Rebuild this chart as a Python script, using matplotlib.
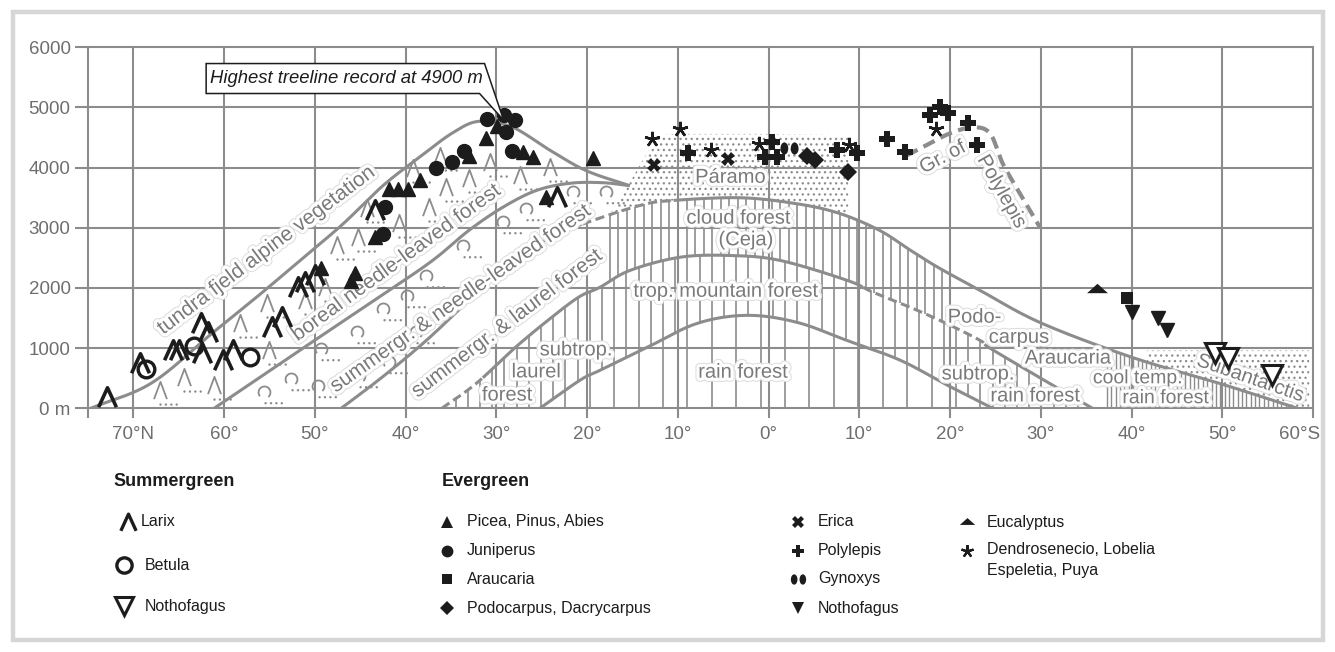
import numpy as np
import matplotlib
matplotlib.use('Agg')
import matplotlib.pyplot as plt
import matplotlib.patheffects as pe
from matplotlib.path import Path
from matplotlib.patches import Polygon, Rectangle
from matplotlib.transforms import ScaledTranslation

plt.rcParams['font.family'] = ['Liberation Sans', 'DejaVu Sans']
plt.rcParams['hatch.color'] = '#8c8c8c'
plt.rcParams['hatch.linewidth'] = 0.9

GRAY = '#8c8c8c'
TXT = '#7a7a7a'
INK = '#1c1c1c'

# latitude: negative = north, positive = south ; altitude in m
treeline_lat = [-74.7, -68.0, -61.3, -56.0, -51.7, -47.0, -42.5, -38.5, -34.8, -31.9, -28.2, -24.1, -20.1, -15.3]
treeline_alt = [0, 420, 1250, 1900, 2450, 3050, 3700, 4170, 4580, 4770, 4670, 4290, 3950, 3700]
boreal_lat = [-61.1, -51.7, -42.3, -37.0, -33.0, -29.3, -25.6, -21.9, -18.3, -15.3]
boreal_alt = [0, 960, 1910, 2460, 2960, 3340, 3620, 3740, 3750, 3700]
cloud_lat = [-47.1, -42.6, -37.7, -32.7, -27.8, -23.1, -19.4, -14.2, -10.9, -3.2, 3.1, 7.8, 12.2, 15.6, 18.7, 23.3, 30.0, 40.0, 50.0, 58.3]
cloud_alt = [0, 515, 1130, 1840, 2510, 2900, 3120, 3370, 3450, 3500, 3400, 3240, 2960, 2630, 2340, 1960, 1420, 850, 400, 0]
mountain_lat = [-36.0, -32.2, -28.0, -24.0, -20.9, -18.6, -15.3, -9.8, -4.3, 1.2, 8.6, 11.5, 15.6, 19.6, 23.3, 24.4, 30.0, 35.7]
mountain_alt = [0, 415, 1000, 1500, 1850, 2010, 2290, 2510, 2540, 2460, 2130, 1930, 1680, 1410, 1130, 1000, 500, 0]
rain_lat = [-25.2, -20.8, -18.6, -13.4, -7.9, -2.4, 3.1, 8.6, 14.5, 19.5, 24.7]
rain_alt = [0, 465, 630, 1010, 1410, 1545, 1430, 1130, 800, 400, 0]
polylepis_lat = [15.2, 17.5, 20.0, 22.5, 24.4, 25.8, 27.7, 29.9]
polylepis_alt = [4200, 4380, 4570, 4670, 4570, 4070, 3570, 3010]
paramo_lat = [-17.5, -15.5, -12.5, -11.0, 0.0, 8.8]
paramo_alt = [3220, 3700, 4480, 4560, 4560, 4540]
subant_lat = [41.7, 59.6]
subant_alt = [960, 960]

# vegetation icons (grey)
conifer_lat = [-67.1, -64.4, -61.1, -58.3, -55.3, -55.0, -51.1, -48.9, -47.6, -45.3, -44.3, -40.7, -39.2, -37.4, -36.2, -35.5, -33.0, -30.7, -27.4, -24.1]
conifer_alt = [300, 520, 390, 1420, 1750, 970, 1800, 2010, 2710, 2840, 3330, 3080, 4000, 3345, 4200, 3680, 3830, 4100, 3875, 4010]
decid_lat = [-55.6, -52.6, -49.7, -49.3, -45.1, -45.4, -42.5, -41.8, -39.9, -38.8, -37.7, -33.7, -29.3, -26.7, -21.6, -17.9]
decid_alt = [255, 470, 355, 970, 520, 1250, 1635, 750, 1850, 1250, 2180, 2680, 3080, 3290, 3580, 3580]

# treeline records
larix_lat = [-72.9, -69.3, -65.6, -65.0, -62.6, -61.8, -62.4, -60.1, -59.0, -54.7, -53.6, -51.9, -51.1, -50.0, -43.4, -23.3]
larix_alt = [190, 750, 970, 970, 1415, 1265, 915, 800, 970, 1355, 1520, 2020, 2100, 2210, 3290, 3510]
betula_lat = [-68.6, -63.3, -57.1]
betula_alt = [660, 1030, 860]
notho_open_lat = [49.2, 50.6, 55.5]
notho_open_alt = [920, 835, 555]
picea_lat = [-49.3, -45.6, -46.0, -43.4, -41.8, -40.8, -39.7, -38.4, -33.0, -31.1, -29.9, -27.1, -26.0, -24.5, -19.4]
picea_alt = [2330, 2250, 2120, 2840, 3640, 3640, 3640, 3790, 4200, 4500, 4700, 4260, 4170, 3510, 4160]
juniperus_lat = [-42.3, -42.5, -36.6, -34.9, -33.6, -31.0, -29.2, -27.9, -28.9, -28.3]
juniperus_alt = [3350, 2900, 4000, 4090, 4270, 4800, 4870, 4790, 4590, 4280]
erica_lat = [-12.6, -4.5]
erica_alt = [4040, 4140]
aster_lat = [-12.8, -9.8, -6.3, -1.0, 8.9, 18.5]
aster_alt = [4480, 4650, 4290, 4400, 4370, 4650]
polyl_lat = [-8.9, 0.4, -0.4, 0.9, 7.5, 9.8, 13.1, 15.0, 17.8, 18.9, 19.8, 22.0, 23.0]
polyl_alt = [4240, 4430, 4180, 4180, 4290, 4240, 4480, 4260, 4870, 5000, 4900, 4740, 4370]
gynoxys_lat = [2.2]
gynoxys_alt = [4320]
podo_lat = [4.2, 5.1, 8.7]
podo_alt = [4200, 4130, 3930]
euca_lat = [36.2]
euca_alt = [2000]
arau_lat = [39.5]
arau_alt = [1830]
notho_lat = [40.1, 42.9, 43.9]
notho_alt = [1600, 1500, 1300]

xticks = [-75, -70, -60, -50, -40, -30, -20, -10, 0, 10, 20, 30, 40, 50, 60]
xlabels = ['', '70°N', '60°', '50°', '40°', '30°', '20°', '10°', '0°',
           '10°', '20°', '30°', '40°', '50°', '60°S']
yticks = [0, 1000, 2000, 3000, 4000, 5000, 6000]
ylabels = ['0 m', '1000', '2000', '3000', '4000', '5000', '6000']


def smooth(xs, ys, n=40):
    pts = np.column_stack([xs, ys]).astype(float)
    P = np.vstack([2 * pts[0] - pts[1], pts, 2 * pts[-1] - pts[-2]])
    out = []
    t = np.linspace(0, 1, n, endpoint=False)[:, None]
    for i in range(1, len(P) - 2):
        p0, p1, p2, p3 = P[i - 1], P[i], P[i + 1], P[i + 2]
        out.append(0.5 * (2 * p1 + (-p0 + p2) * t + (2 * p0 - 5 * p1 + 4 * p2 - p3) * t ** 2
                          + (-p0 + 3 * p1 - 3 * p2 + p3) * t ** 3))
    out.append(pts[-1:])
    return np.vstack(out)


def at(c, x):
    return np.interp(x, c[:, 0], c[:, 1], left=0, right=0)


def draw(c, lo=None, hi=None, dashed=False, lw=2.2):
    m = np.ones(len(c), bool)
    if lo is not None:
        m &= c[:, 0] >= lo
    if hi is not None:
        m &= c[:, 0] <= hi
    kw = dict(dashes=(3, 1.5)) if dashed else {}
    ax.plot(c[m, 0], c[m, 1], color=GRAY, lw=lw, zorder=2, solid_capstyle='butt', **kw)


c1 = smooth(treeline_lat, treeline_alt)
c2 = smooth(boreal_lat, boreal_alt)
c3 = smooth(cloud_lat, cloud_alt)
c4 = smooth(mountain_lat, mountain_alt)
c5 = smooth(rain_lat, rain_alt)
c6 = smooth(polylepis_lat, polylepis_alt)

W, H = 1335, 652
fig = plt.figure(figsize=(W / 100, H / 100), dpi=100)
ax = fig.add_axes([88 / W, 1 - 408.3 / H, (1313 - 88) / W, 361 / H])
ax.set_xlim(-75, 60)
ax.set_ylim(0, 6000)
for s in ax.spines.values():
    s.set_visible(False)
ax.set_xticks(xticks, xlabels)
ax.set_yticks(yticks, ylabels)
ax.grid(True, color=GRAY, lw=1.5, zorder=0)
ax.set_axisbelow(True)
for gl in ax.get_xgridlines() + ax.get_ygridlines():
    gl.set_clip_on(False)
ax.tick_params(axis='x', length=7.5, width=1.5, color=GRAY, labelsize=13.5, labelcolor='#6e6e6e', pad=5)
ax.tick_params(axis='y', length=9.5, width=1.5, color=GRAY, labelsize=13.5, labelcolor='#6e6e6e', pad=3)
lab = ax.get_xticklabels()[-1]
lab.set_transform(lab.get_transform() + ScaledTranslation(-0.13, 0, fig.dpi_scale_trans))

# hatching: subtropical / mountain / rain forest
step = 1.345
ks = np.arange(-12, 42)
xs = -19.7 + step * ks
tops = at(c4, xs)
bots = np.where(ks % 2 == 0, 0, at(c5, xs))
ok = tops > 0
ax.vlines(xs[ok], bots[ok], tops[ok], colors=GRAY, lw=1.2, zorder=1)
# cloud forest
xs = np.arange(-17.5, 19.2, 0.94)
ax.vlines(xs, at(c4, xs), at(c3, xs), colors=GRAY, lw=1.2, zorder=1)
# cool temperate
xs = np.arange(37.3, 58.3, 0.48)
ax.vlines(xs, 0, at(c3, xs), colors=GRAY, lw=1.0, zorder=1)

# stippled areas
xs = np.linspace(paramo_lat[0], paramo_lat[-1], 300)
lo = at(c3, xs)
hi = np.interp(xs, paramo_lat, paramo_alt)
ax.fill_between(xs, lo, hi, where=hi > lo, facecolor='none', edgecolor=GRAY, hatch='...', lw=0, zorder=1)
xs = np.linspace(subant_lat[0], subant_lat[-1], 300)
lo = np.interp(xs, c3[:, 0], c3[:, 1], right=0)
hi = np.interp(xs, subant_lat, subant_alt)
ax.fill_between(xs, lo, hi, where=hi > lo, facecolor='none', edgecolor=GRAY, hatch='...', lw=0, zorder=1)

# boundaries
draw(c1)
draw(c2)
draw(c3, hi=-20.5)
draw(c3, lo=-20.5, hi=-10.5, dashed=True)
draw(c3, lo=-10.5)
draw(c4, hi=-31.5, dashed=True)
draw(c4, lo=-31.5, hi=10.4)
draw(c4, lo=10.4, hi=23.8, dashed=True)
draw(c4, lo=23.8)
draw(c5)
ax.plot(c6[:, 0], c6[:, 1], color=GRAY, lw=3, dashes=(3, 1.6), zorder=2)

# grey vegetation icons
M, L = Path.MOVETO, Path.LINETO
con_line = Path([(18, 18), (-6, -8), (0, 8), (6, -8)], [M, M, L, L])
dots = [Path.circle((dx, -13), 1.1) for dx in (0, 5, 10, 15)]
pad = Path([(18, 18), (-18, -18)], [M, M])
con_dots = Path.make_compound_path(pad, *dots)
arc = Path.arc(-50, 220)
arc = Path(arc.vertices * 5.5 + [0, 1], arc.codes)
dec_line = Path.make_compound_path(pad, arc)
dec_dots = Path.make_compound_path(pad, *[Path.circle((dx, -9), 1.1) for dx in (1, 6, 11, 16)])
ax.plot(conifer_lat, conifer_alt, ls='none', marker=con_line, ms=28, mfc='none', mec=GRAY, mew=1.3, zorder=2.5)
ax.plot(conifer_lat, conifer_alt, ls='none', marker=con_dots, ms=28, mfc=GRAY, mew=0, zorder=2.5)
ax.plot(decid_lat, decid_alt, ls='none', marker=dec_line, ms=28, mfc='none', mec=GRAY, mew=1.3, zorder=2.5)
ax.plot(decid_lat, decid_alt, ls='none', marker=dec_dots, ms=28, mfc=GRAY, mew=0, zorder=2.5)

# labels
halo = [pe.Stroke(linewidth=6, foreground='#dedede'), pe.Stroke(linewidth=4.5, foreground='white'), pe.Normal()]


def label(x, y, s, rot=0, size=14.5):
    ax.text(x, y, s, rotation=rot, rotation_mode='anchor', ha='center', va='center',
            color=TXT, fontsize=size, path_effects=halo, zorder=3)


label(-55.3, 2630, 'tundra fjeld alpine vegetation', 37, 15)
label(-41.0, 2420, 'boreal needle-leaved forest', 36, 15)
label(-33.9, 1825, 'summergr. & needle-leaved forest', 35, 15)
label(-28.8, 1410, 'summergr. & laurel forest', 37, 15)
label(-21.2, 970, 'subtrop.')
label(-25.6, 605, 'laurel')
label(-28.8, 220, 'forest')
label(-4.2, 3840, 'Páramo')
label(-3.3, 3160, 'cloud forest')
label(-2.5, 2800, '(Ceja)')
label(-4.7, 1945, 'trop. mountain forest')
label(-2.8, 600, 'rain forest')
label(19.2, 4170, 'Gr. of', 28)
label(25.7, 3600, 'Polylepis', -60.5)
label(22.7, 1515, 'Podo-')
label(27.6, 1180, 'carpus')
label(33.0, 835, 'Araucaria')
label(23.1, 570, 'subtrop.')
label(29.4, 205, 'rain forest')
label(40.7, 490, 'cool temp.', size=14)
label(43.8, 160, 'rain forest', size=14)
label(53.1, 500, 'Subantarctis', -19)

# record markers
larix_mk = Path([(-0.55, -0.6), (0, 0.6), (0.55, -0.6)], [M, L, L])
circ = Path.unit_circle()
lens_l = Path(circ.vertices * [0.32, 0.5] + [-0.42, 0], circ.codes)
lens_r = Path(circ.vertices * [0.32, 0.5] + [0.42, 0], circ.codes)
gyn_mk = Path.make_compound_path(lens_l, lens_r)
euca_mk = Path([(-1, -0.45), (0, 0.45), (1, -0.45), (-1, -0.45)], [M, L, L, Path.CLOSEPOLY])
star_mk = (5, 2, 0)

S = dict(ls='none', zorder=4)
ax.plot(picea_lat, picea_alt, marker='^', ms=10, color=INK, **S)
ax.plot(juniperus_lat, juniperus_alt, marker='o', ms=10, color=INK, **S)
ax.plot(larix_lat, larix_alt, marker=larix_mk, ms=14, mfc='none', mec=INK, mew=2.6, **S)
ax.plot(betula_lat, betula_alt, marker='o', ms=12, mfc='none', mec=INK, mew=2.4, **S)
ax.plot(notho_open_lat, notho_open_alt, marker='v', ms=14, mfc='white', mec=INK, mew=2.2, **S)
ax.plot(notho_lat, notho_alt, marker='v', ms=10, color=INK, **S)
ax.plot(erica_lat, erica_alt, marker='X', ms=10, color=INK, mew=0, **S)
ax.plot(polyl_lat, polyl_alt, marker='P', ms=11, color=INK, mew=0, **S)
ax.plot(aster_lat, aster_alt, marker=star_mk, ms=11, mec=INK, mew=1.8, **S)
ax.plot(gynoxys_lat, gynoxys_alt, marker=gyn_mk, ms=13, color=INK, mew=0, **S)
ax.plot(podo_lat, podo_alt, marker='D', ms=9, color=INK, mew=0, **S)
ax.plot(arau_lat, arau_alt, marker='s', ms=8.5, color=INK, mew=0, **S)
ax.plot(euca_lat, euca_alt, marker=euca_mk, ms=15, color=INK, mew=0, **S)

# callout for the highest record
i = int(np.argmax(juniperus_alt))
tip = (juniperus_lat[i], juniperus_alt[i] - 80)
ax.add_patch(Polygon([(-61.98, 5730), (-31.3, 5730), tip, (-31.85, 5232), (-61.98, 5232)],
                     closed=True, facecolor='white', edgecolor=INK, lw=1.1, zorder=5, clip_on=False))
ax.text(-61.5, 5481, 'Highest treeline record at 4900 m', fontstyle='italic', fontsize=13.3,
        color=INK, va='center', ha='left', zorder=6)

# legend (pixel layout)
lg = fig.add_axes([0, 0, 1, 1], zorder=5)
lg.set_xlim(0, W)
lg.set_ylim(H, 0)
lg.axis('off')
lg.patch.set_alpha(0)
lg.add_patch(Rectangle((13, 12), 1310, 628, fill=False, ec='#d6d6d6', lw=3.2))

T = dict(fontsize=11.5, color=INK, va='center', ha='left')
lg.text(113, 482, 'Summergreen', fontsize=13, fontweight='bold', color=INK, va='center')
lg.text(442, 482, 'Evergreen', fontsize=13, fontweight='bold', color=INK, va='center')

lg.plot([128], [522], marker=larix_mk, ms=12, mfc='none', mec=INK, mew=2.4, **S)
lg.text(141, 522, 'Larix', **T)
lg.plot([124], [565], marker='o', ms=11, mfc='none', mec=INK, mew=2.4, **S)
lg.text(145, 565, 'Betula', **T)
lg.plot([124], [606], marker='v', ms=13, mfc='white', mec=INK, mew=2.2, **S)
lg.text(145, 607, 'Nothofagus', **T)

col1 = [('^', 'Picea, Pinus, Abies', 8.5), ('o', 'Juniperus', 8.5), ('s', 'Araucaria', 7), ('D', 'Podocarpus, Dacrycarpus', 7.5)]
col2 = [('X', 'Erica', 8.5), ('P', 'Polylepis', 9), (gyn_mk, 'Gynoxys', 11), ('v', 'Nothofagus', 8.5)]
rows = [522, 551, 579, 608]
for (mk, name, ms), y in zip(col1, rows):
    lg.plot([447], [y], marker=mk, ms=ms, color=INK, mew=0, **S)
    lg.text(467, y, name, **T)
for (mk, name, ms), y in zip(col2, rows):
    lg.plot([798], [y], marker=mk, ms=ms, color=INK, mew=0, **S)
    lg.text(818, y, name, **T)
lg.plot([967], [521], marker=euca_mk, ms=11, color=INK, mew=0, **S)
lg.text(987, 522, 'Eucalyptus', **T)
lg.plot([967], [551], marker=star_mk, ms=9, mec=INK, mew=1.6, **S)
lg.text(987, 550, 'Dendrosenecio, Lobelia', **T)
lg.text(987, 570, 'Espeletia, Puya', **T)

fig.savefig('out.png', dpi=100)
